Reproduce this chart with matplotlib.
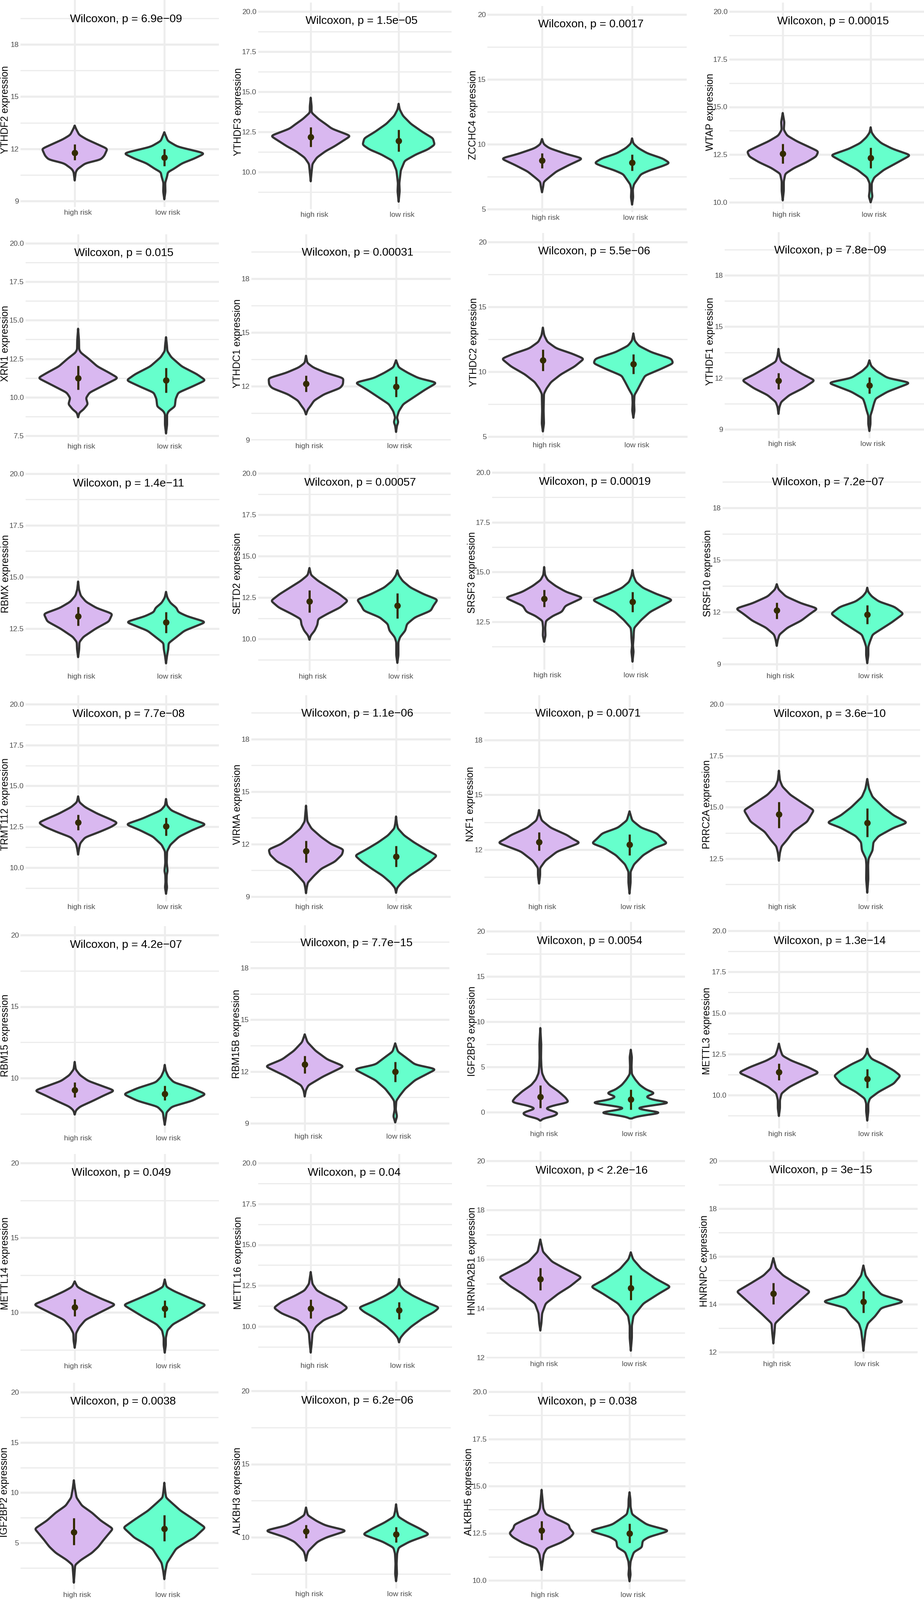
import numpy as np
import matplotlib
matplotlib.use("Agg")
import matplotlib.pyplot as plt
from matplotlib.transforms import ScaledTranslation

plt.rcParams['font.family'] = ['Liberation Sans', 'DejaVu Sans']

W, H = 2165, 3749
DPI = 100

GENES = ["YTHDF2", "YTHDF3", "ZCCHC4", "WTAP", "XRN1", "YTHDC1", "YTHDC2", "YTHDF1",
         "RBMX", "SETD2", "SRSF3", "SRSF10", "TRMT112", "VIRMA", "NXF1", "PRRC2A",
         "RBM15", "RBM15B", "IGF2BP3", "METTL3", "METTL14", "METTL16", "HNRNPA2B1", "HNRNPC",
         "IGF2BP2", "ALKBH3", "ALKBH5"]
PVALUES = ["p = 6.9e−09", "p = 1.5e−05", "p = 0.0017", "p = 0.00015", "p = 0.015", "p = 0.00031",
           "p = 5.5e−06", "p = 7.8e−09", "p = 1.4e−11", "p = 0.00057", "p = 0.00019", "p = 7.2e−07",
           "p = 7.7e−08", "p = 1.1e−06", "p = 0.0071", "p = 3.6e−10", "p = 4.2e−07", "p = 7.7e−15",
           "p = 0.0054", "p = 1.3e−14", "p = 0.049", "p = 0.04", "p < 2.2e−16", "p = 3e−15",
           "p = 0.0038", "p = 6.2e−06", "p = 0.038"]
GROUPS = ["high risk", "low risk"]

T369 = [9, 12, 15, 18]
T25 = [10, 12.5, 15, 17.5, 20]
T5 = [5, 10, 15, 20]
T10 = [10, 15, 20]
TICKS = [T369, T25, T5, T25,
         [7.5, 10, 12.5, 15, 17.5, 20], T369, T5, T369,
         [12.5, 15, 17.5, 20], T25, [12.5, 15, 17.5, 20], T369,
         T25, T369, [12, 15, 18], [12.5, 15, 17.5, 20],
         T10, T369, [0, 5, 10, 15, 20], T25,
         T10, T25, [12, 14, 16, 18, 20], [12, 14, 16, 18, 20],
         T5, T10, T25]

# group summary: centre point, lower and upper end of the bar
MEAN_HIGH = [11.78, 12.18, 8.75, 12.55, 11.25, 12.15, 10.9, 11.84, 13.1, 12.27, 13.65, 12.1, 12.78, 11.6,
             12.43, 14.65, 9.15, 12.4, 1.7, 11.4, 10.35, 11.1, 15.2, 14.45, 6.05, 10.4, 12.65]
LO_HIGH = [11.35, 11.57, 8.15, 12.03, 10.5, 11.7, 10.05, 11.35, 12.65, 11.6, 13.25, 11.6, 12.3, 10.95,
           11.95, 14.0, 8.65, 11.9, 0.45, 10.9, 9.75, 10.5, 14.75, 14.0, 4.8, 9.95, 12.15]
HI_HIGH = [12.25, 12.8, 9.3, 13.07, 12.05, 12.6, 11.7, 12.3, 13.55, 12.95, 14.1, 12.55, 13.25, 12.2,
           12.95, 15.25, 9.7, 12.9, 2.95, 11.92, 10.9, 11.65, 15.65, 14.9, 7.45, 10.85, 13.15]
MEAN_LOW = [11.5, 11.94, 8.6, 12.33, 11.1, 11.97, 10.6, 11.57, 12.8, 12.0, 13.5, 11.85, 12.52, 11.3,
            12.28, 14.25, 8.9, 12.0, 1.4, 11.0, 10.25, 11.0, 14.83, 14.1, 6.4, 10.2, 12.5]
LO_LOW = [11.0, 11.27, 7.95, 11.8, 10.3, 11.4, 9.85, 11.1, 12.3, 11.25, 13.0, 11.3, 11.95, 10.7,
          11.7, 13.55, 8.45, 11.4, 0.3, 10.45, 9.65, 10.45, 14.35, 13.65, 5.15, 9.65, 12.0]
HI_LOW = [12.0, 12.63, 9.2, 12.87, 11.9, 12.55, 11.35, 12.05, 13.3, 12.75, 14.0, 12.4, 13.05, 11.9,
          12.85, 14.95, 9.45, 12.55, 2.5, 11.58, 10.8, 11.5, 15.35, 14.55, 7.75, 10.7, 13.0]

# violin outlines: (expression, half width in group spacings)
YTHDF2_H = [(10.18, 0), (10.66, .012), (10.83, .03), (11.17, .12), (11.38, .29), (11.6, .33), (12, .365), (12.2, .28), (12.55, .13), (12.8, .05), (13.15, .015), (13.33, 0)]
YTHDF2_L = [(9.1, 0), (9.53, .012), (10.05, .01), (10.4, .03), (10.66, .04), (10.83, .1), (11.17, .2), (11.43, .33), (11.74, .455), (12.12, .15), (12.45, .04), (12.7, .02), (12.95, 0)]
YTHDF3_H = [(9.42, 0), (10, .01), (10.5, .02), (10.9, .07), (11.3, .17), (11.6, .27), (12.25, .455), (12.7, .24), (12.95, .18), (13.3, .09), (13.7, .01), (14.1, .01), (14.63, 0)]
YTHDF3_L = [(8.15, 0), (8.8, .012), (9.3, .008), (10.1, .025), (10.7, .07), (11.1, .2), (11.4, .33), (11.7, .41), (12.1, .39), (12.5, .27), (13, .14), (13.5, .05), (13.9, .012), (14.25, 0)]
ZCCHC4_H = [(6.3, 0), (6.7, .012), (7.1, .02), (7.4, .07), (7.9, .16), (8.4, .3), (8.9, .455), (9.25, .27), (9.7, .08), (10, .02), (10.4, 0)]
ZCCHC4_L = [(5.35, 0), (5.9, .012), (6.5, .008), (6.9, .02), (7.2, .05), (7.7, .1), (8, .2), (8.3, .33), (8.55, .42), (8.9, .34), (9.3, .17), (9.7, .07), (10.05, .015), (10.45, 0)]
WTAP_H = [(10.1, 0), (10.6, .012), (11.1, .012), (11.5, .03), (11.8, .13), (12.1, .27), (12.4, .38), (12.67, .405), (12.9, .3), (13.2, .16), (13.5, .05), (13.8, .012), (14.2, .018), (14.68, 0)]
WTAP_L = [(10, 0), (10.3, .02), (10.6, .012), (11, .012), (11.3, .04), (11.7, .15), (12, .27), (12.47, .455), (12.8, .25), (13.1, .12), (13.4, .05), (13.65, .012), (13.93, 0)]
XRN1_H = [(8.7, 0), (9, .015), (9.2, .06), (9.55, .11), (9.95, .09), (10.3, .13), (10.8, .3), (11.25, .455), (11.6, .35), (12, .22), (12.5, .12), (12.9, .03), (13.1, .012), (13.7, .01), (14.45, 0)]
XRN1_L = [(7.65, 0), (8.2, .012), (8.9, .012), (9.1, .03), (9.4, .1), (9.9, .11), (10.3, .14), (10.7, .3), (11.1, .45), (11.5, .35), (12, .18), (12.6, .06), (13, .015), (13.4, .01), (13.9, 0)]
YTHDC1_H = [(10.43, 0), (10.7, .02), (10.9, .05), (11.2, .09), (11.55, .2), (11.9, .38), (12.1, .41), (12.45, .415), (12.75, .22), (13.05, .08), (13.3, .015), (13.7, 0)]
YTHDC1_L = [(9.45, 0), (9.8, .01), (10, .025), (10.25, .01), (10.6, .03), (11, .08), (11.4, .2), (11.8, .32), (12.2, .455), (12.45, .25), (12.75, .13), (13.05, .03), (13.45, 0)]
YTHDC2_H = [(5.4, 0), (6, .012), (7, .008), (8.3, .012), (8.7, .04), (9.2, .09), (9.8, .2), (10.4, .35), (11, .455), (11.4, .32), (11.8, .15), (12.3, .05), (12.8, .015), (13.4, 0)]
YTHDC2_L = [(6.45, 0), (7, .012), (7.6, .008), (8.2, .012), (8.6, .045), (9.2, .09), (9.7, .13), (10.2, .3), (10.65, .44), (11, .42), (11.5, .2), (12, .06), (12.4, .015), (12.95, 0)]
YTHDF1_H = [(9.9, 0), (10.3, .01), (10.6, .03), (11, .12), (11.4, .27), (11.86, .4), (12.2, .27), (12.6, .14), (12.95, .03), (13.3, .01), (13.7, 0)]
YTHDF1_L = [(8.9, 0), (9.3, .012), (9.8, .012), (10.1, .03), (10.5, .05), (10.8, .07), (11.2, .2), (11.72, .455), (12, .2), (12.4, .08), (12.7, .02), (13.03, 0)]
RBMX_H = [(11.12, 0), (11.5, .012), (11.85, .015), (12.1, .06), (12.5, .2), (12.85, .35), (13.22, .39), (13.5, .21), (13.8, .09), (14.1, .03), (14.4, .01), (14.78, 0)]
RBMX_L = [(10.82, 0), (11.2, .012), (11.5, .025), (11.8, .03), (12, .09), (12.4, .21), (12.82, .455), (13.1, .24), (13.3, .14), (13.5, .12), (13.75, .05), (14, .015), (14.28, 0)]
SETD2_H = [(9.95, 0), (10.2, .015), (10.5, .06), (10.85, .09), (11.2, .1), (11.5, .2), (11.9, .35), (12.3, .437), (12.7, .34), (13.1, .22), (13.5, .1), (13.85, .02), (14.28, 0)]
SETD2_L = [(8.55, 0), (9, .012), (9.8, .012), (10.1, .03), (10.5, .09), (10.9, .11), (11.3, .2), (11.7, .38), (12, .41), (12.37, .458), (12.7, .3), (13.1, .15), (13.5, .06), (13.85, .015), (14.14, 0)]
SRSF3_H = [(11.5, 0), (11.8, .015), (12.2, .012), (12.55, .02), (12.8, .1), (13, .2), (13.3, .24), (13.71, .44), (14, .25), (14.3, .13), (14.6, .04), (14.85, .01), (15.25, 0)]
SRSF3_L = [(10.5, 0), (11, .012), (11.3, .005), (11.7, .012), (12, .015), (12.2, .02), (12.6, .1), (13, .2), (13.6, .455), (13.9, .27), (14.2, .12), (14.5, .04), (14.8, .012), (15.1, 0)]
SRSF10_H = [(10.05, 0), (10.4, .012), (10.7, .03), (11.1, .12), (11.5, .27), (11.9, .37), (12.2, .453), (12.5, .27), (12.9, .1), (13.3, .02), (13.6, 0)]
SRSF10_L = [(9.05, 0), (9.5, .012), (10, .012), (10.3, .03), (10.7, .06), (11, .15), (11.4, .27), (11.9, .4), (12.3, .3), (12.6, .13), (12.9, .05), (13.15, .012), (13.4, 0)]
TRMT112_H = [(10.8, 0), (11.2, .012), (11.5, .025), (11.85, .08), (12.2, .25), (12.5, .38), (12.75, .45), (13, .35), (13.3, .22), (13.7, .08), (14, .015), (14.36, 0)]
TRMT112_L = [(8.4, 0), (8.8, .012), (9.1, .006), (9.55, .008), (9.8, .018), (10.3, .008), (11, .012), (11.4, .05), (11.9, .15), (12.3, .3), (12.65, .458), (13, .27), (13.5, .06), (13.8, .012), (14.2, 0)]
VIRMA_H = [(9.2, 0), (9.5, .008), (9.8, .02), (10.2, .09), (10.6, .17), (11, .32), (11.4, .4), (11.7, .415), (12, .28), (12.4, .17), (12.9, .06), (13.3, .015), (13.6, .01), (14.2, 0)]
VIRMA_L = [(9.22, 0), (9.5, .012), (9.8, .06), (10.2, .15), (10.6, .27), (11, .38), (11.35, .455), (11.7, .33), (12.1, .2), (12.5, .09), (12.9, .02), (13.2, .008), (13.58, 0)]
NXF1_H = [(10.15, 0), (10.6, .012), (11, .012), (11.4, .07), (11.9, .2), (12.38, .455), (12.6, .37), (12.8, .31), (13.2, .13), (13.6, .03), (13.9, .01), (14.17, 0)]
NXF1_L = [(9.6, 0), (10.2, .012), (10.8, .012), (11.2, .05), (11.7, .15), (12.1, .28), (12.35, .417), (12.6, .36), (12.9, .3), (13.2, .13), (13.6, .03), (14.1, 0)]
PRRC2A_H = [(12.4, 0), (12.8, .012), (13.1, .03), (13.4, .09), (13.8, .16), (14.3, .32), (14.85, .395), (15.2, .27), (15.6, .13), (16, .04), (16.3, .012), (16.77, 0)]
PRRC2A_L = [(10.85, 0), (11.5, .012), (12.2, .01), (12.5, .015), (12.9, .06), (13.3, .07), (13.6, .13), (14, .3), (14.25, .455), (14.6, .3), (15, .18), (15.5, .06), (15.9, .02), (16.37, 0)]
RBM15_H = [(7.45, 0), (7.75, .015), (8, .06), (8.4, .2), (8.8, .33), (9.12, .445), (9.5, .28), (9.8, .15), (10.2, .06), (10.6, .012), (11.13, 0)]
RBM15_L = [(6.73, 0), (7.2, .012), (7.6, .02), (8, .08), (8.4, .3), (8.87, .458), (9.3, .3), (9.7, .1), (10.1, .04), (10.5, .012), (10.92, 0)]
RBM15B_H = [(10.55, 0), (10.9, .012), (11.2, .04), (11.7, .2), (12.3, .435), (12.7, .25), (13.2, .12), (13.7, .03), (14.15, 0)]
RBM15B_L = [(9.05, 0), (9.4, .02), (9.8, .006), (10.3, .012), (10.6, .05), (11, .11), (11.5, .22), (12.14, .455), (12.4, .22), (12.8, .12), (13.15, .03), (13.63, 0)]
IGF2BP3_H = [(-.93, 0), (-.7, .03), (-.4, .16), (-.1, .2), (.15, .13), (.4, .05), (.7, .13), (1.1, .315), (1.6, .28), (2.3, .2), (3, .1), (3.6, .05), (4.3, .02), (5, .012), (6, .008), (7.5, .01), (9.3, 0)]
IGF2BP3_L = [(-.7, 0), (-.45, .08), (-.2, .25), (-.05, .37), (.15, .2), (.45, .05), (.7, .2), (1.05, .457), (1.35, .25), (1.7, .16), (2.1, .27), (2.5, .17), (3, .1), (3.6, .05), (4.2, .012), (5, .008), (6.1, .012), (6.9, 0)]
METTL3_H = [(8.73, 0), (9.2, .012), (9.7, .012), (10.1, .03), (10.5, .12), (11, .3), (11.37, .455), (11.7, .33), (12.1, .14), (12.4, .04), (12.8, .015), (13.13, 0)]
METTL3_L = [(8.45, 0), (9, .012), (9.5, .012), (9.8, .03), (10.2, .13), (10.7, .3), (11.18, .375), (11.5, .3), (11.9, .17), (12.2, .05), (12.5, .012), (12.82, 0)]
METTL14_H = [(7.63, 0), (8.1, .012), (8.6, .015), (9, .05), (9.5, .12), (9.9, .25), (10.52, .455), (10.9, .3), (11.4, .12), (11.7, .03), (12.07, 0)]
METTL14_L = [(7.3, 0), (7.8, .012), (8.3, .012), (8.8, .03), (9.2, .09), (9.7, .24), (10.5, .458), (10.9, .3), (11.4, .11), (11.7, .02), (12.2, 0)]
METTL16_H = [(8.4, 0), (9, .012), (9.6, .02), (10, .06), (10.4, .15), (10.8, .33), (11.14, .418), (11.5, .33), (11.9, .17), (12.2, .07), (12.6, .02), (13.33, 0)]
METTL16_L = [(9.03, 0), (9.3, .015), (9.6, .06), (10, .14), (10.5, .27), (10.9, .4), (11.16, .455), (11.5, .3), (11.9, .15), (12.2, .06), (12.5, .012), (12.9, 0)]
HNRNPA2B1_H = [(13.1, 0), (13.4, .012), (13.8, .02), (14.2, .06), (14.6, .2), (14.9, .33), (15.27, .456), (15.6, .28), (15.9, .13), (16.3, .03), (16.8, 0)]
HNRNPA2B1_L = [(12.28, 0), (12.8, .012), (13.3, .012), (13.7, .03), (14.2, .14), (14.6, .31), (14.88, .44), (15.2, .28), (15.6, .12), (16, .025), (16.28, 0)]
HNRNPC_H = [(12.36, 0), (12.8, .012), (13.2, .02), (13.6, .13), (14, .25), (14.53, .407), (14.9, .24), (15.2, .11), (15.5, .03), (15.93, 0)]
HNRNPC_L = [(12.05, 0), (12.5, .012), (12.9, .025), (13.2, .05), (13.5, .13), (13.85, .2), (14.11, .456), (14.4, .2), (14.8, .1), (15.2, .025), (15.62, 0)]
IGF2BP2_H = [(1.03, 0), (2, .008), (2.8, .015), (3.3, .08), (4, .2), (4.6, .27), (5.3, .33), (6.4, .432), (7.2, .3), (8, .2), (8.7, .09), (9.5, .03), (10.4, .012), (11.23, 0)]
IGF2BP2_L = [(1.38, 0), (2.2, .012), (3, .03), (3.7, .08), (4.4, .13), (5, .23), (5.5, .33), (6.52, .452), (7.3, .33), (8.2, .18), (9, .08), (9.5, .02), (10.1, .01), (10.98, 0)]
ALKBH3_H = [(8.4, 0), (8.8, .012), (9.05, .025), (9.4, .08), (9.7, .13), (10, .23), (10.45, .457), (10.8, .22), (11.1, .12), (11.5, .02), (12.03, 0)]
ALKBH3_L = [(7, 0), (7.5, .01), (8.2, .006), (8.9, .012), (9.3, .03), (9.7, .15), (10.2, .37), (10.6, .26), (11, .13), (11.4, .025), (11.8, .01), (12.25, 0)]
ALKBH5_H = [(10.55, 0), (11, .012), (11.4, .025), (11.7, .06), (12, .22), (12.3, .33), (12.5, .367), (12.75, .32), (12.95, .31), (13.2, .2), (13.5, .05), (13.8, .02), (14.2, .012), (14.8, 0)]
ALKBH5_L = [(9.95, 0), (10.3, .012), (10.65, .006), (11, .012), (11.25, .03), (11.5, .05), (11.75, .14), (12.1, .15), (12.3, .22), (12.63, .457), (12.95, .2), (13.2, .12), (13.5, .03), (13.9, .012), (14.3, .01), (14.67, 0)]

OUTLINES_HIGH = [YTHDF2_H, YTHDF3_H, ZCCHC4_H, WTAP_H, XRN1_H, YTHDC1_H, YTHDC2_H, YTHDF1_H, RBMX_H, SETD2_H,
                 SRSF3_H, SRSF10_H, TRMT112_H, VIRMA_H, NXF1_H, PRRC2A_H, RBM15_H, RBM15B_H, IGF2BP3_H, METTL3_H,
                 METTL14_H, METTL16_H, HNRNPA2B1_H, HNRNPC_H, IGF2BP2_H, ALKBH3_H, ALKBH5_H]
OUTLINES_LOW = [YTHDF2_L, YTHDF3_L, ZCCHC4_L, WTAP_L, XRN1_L, YTHDC1_L, YTHDC2_L, YTHDF1_L, RBMX_L, SETD2_L,
                SRSF3_L, SRSF10_L, TRMT112_L, VIRMA_L, NXF1_L, PRRC2A_L, RBM15_L, RBM15B_L, IGF2BP3_L, METTL3_L,
                METTL14_L, METTL16_L, HNRNPA2B1_L, HNRNPC_L, IGF2BP2_L, ALKBH3_L, ALKBH5_L]

# ---- layout, in image pixels ----
# left, right, group-1 x, group-2 x, top, tick-label centre y
FRAME = [(48, 513, 175, 385, 0, 499), (605, 1058, 728, 934, 6, 504), (1142, 1609, 1270, 1481, 14, 511), (1709, 2165, 1834, 2040, 6, 504),
         (60, 513, 183, 389, 549, 1047), (589, 1056, 717, 928, 549, 1046), (1144, 1611, 1272, 1484, 546, 1044), (1698, 2165, 1824, 2037, 544, 1041),
         (60, 514, 183, 389, 1088, 1586), (605, 1056, 725, 931, 1088, 1586), (1153, 1606, 1275, 1482, 1086, 1583), (1693, 2158, 1820, 2032, 1087, 1585),
         (60, 513, 183, 389, 1629, 2126), (589, 1056, 717, 928, 1629, 2126), (1135, 1602, 1263, 1475, 1629, 2126), (1700, 2156, 1825, 2032, 1629, 2126),
         (48, 513, 175, 386, 2170, 2668), (587, 1053, 714, 926, 2168, 2664), (1140, 1605, 1266, 1478, 2160, 2658), (1706, 2156, 1825, 2032, 2160, 2658),
         (48, 513, 175, 386, 2704, 3202), (605, 1059, 728, 935, 2704, 3201), (1140, 1605, 1266, 1478, 2698, 3197), (1684, 2150, 1812, 2023, 2698, 3197),
         (48, 512, 173, 385, 3240, 3738), (589, 1056, 717, 928, 3237, 3736), (1145, 1606, 1269, 1475, 3239, 3738)]
# two reference ticks: (value, y pixel), (value, y pixel)
YREF = [(18, 104, 9, 471), (20, 27, 10, 403), (20, 34, 5, 490), (20, 27, 10, 474),
        (20, 570, 7.5, 1021), (18, 653, 9, 1031), (20, 567, 5, 1023), (18, 645, 9, 1006),
        (20, 1110, 12.5, 1473), (20, 1109, 10, 1497), (20, 1107, 12.5, 1457), (18, 1190, 9, 1556),
        (20, 1650, 10, 2033), (18, 1732, 9, 2101), (18, 1734, 12, 1991), (20, 1650, 12.5, 2012),
        (20, 2191, 10, 2526), (18, 2268, 9, 2632), (20, 2182, 0, 2606), (20, 2181, 10, 2566),
        (20, 2725, 10, 3075), (20, 2725, 10, 3108), (20, 2720, 12, 3181), (20, 2720, 12, 3168),
        (20, 3262, 5, 3615), (20, 3259, 10, 3602), (20, 3261, 10, 3703)]
# annotation: left x, centre y
NOTE = [(164, 45), (716, 49), (1261, 57), (1821, 50), (174, 593), (707, 592), (1261, 589), (1814, 587),
        (171, 1133), (713, 1131), (1263, 1129), (1809, 1130), (170, 1673), (706, 1672), (1254, 1672), (1813, 1673),
        (164, 2214), (704, 2210), (1258, 2205), (1813, 2205), (168, 2748), (721, 2748), (1255, 2743), (1803, 2742),
        (165, 3284), (706, 3282), (1260, 3284)]
YLABEL_X = [13, 559, 1109, 1664, 13, 556, 1111, 1664, 14, 556, 1106, 1659, 13, 556, 1102, 1656,
            13, 554, 1106, 1657, 13, 559, 1106, 1651, 11, 556, 1099]

PURPLE = "#D9B8F0"
TEAL = "#66FFCC"
OUTLINE = "#333333"
DOT = "#332B00"
GRID = "#EDEDED"
PX = 72 / DPI


def violin(ax, x, outline, fill, px_per_unit):
    vals = np.array([p[0] for p in outline], float)
    half = np.array([p[1] for p in outline], float)
    ys = np.linspace(vals[0], vals[-1], 500)
    w = np.interp(ys, vals, half)
    step_px = (vals[-1] - vals[0]) / 499 * px_per_unit
    sigma = 2.2 / step_px
    r = int(np.ceil(3 * sigma))
    k = np.exp(-0.5 * (np.arange(-r, r + 1) / sigma) ** 2)
    k /= k.sum()
    w = np.convolve(np.pad(w, r, mode='edge'), k, mode='valid')
    w[0] = w[-1] = 0
    ax.fill(np.r_[x - w, (x + w)[::-1]], np.r_[ys, ys[::-1]], facecolor=fill, edgecolor=OUTLINE,
            linewidth=5 * PX, joinstyle='round', zorder=3)


fig = plt.figure(figsize=(W / DPI, H / DPI), dpi=DPI, facecolor='white')

for i, gene in enumerate(GENES):
    left, right, x1, x2, top, lab_y = FRAME[i]
    bottom = lab_y - 14
    ax = fig.add_axes([left / W, 1 - bottom / H, (right - left) / W, (bottom - top) / H])
    v1, p1, v2, p2 = YREF[i]
    ppu = (p2 - p1) / (v1 - v2)
    ax.set_ylim(v2 - (bottom - p2) / ppu, v1 + (p1 - top) / ppu)
    ax.set_xlim(1 + (left - x1) / (x2 - x1), 1 + (right - x1) / (x2 - x1))
    for s in ax.spines.values():
        s.set_visible(False)

    ticks = TICKS[i]
    step = ticks[1] - ticks[0]
    ax.set_yticks(ticks)
    ax.set_yticklabels([f"{t:.1f}" if step == 2.5 else f"{t:g}" for t in ticks])
    low_y, high_y = ax.get_ylim()
    minors = [t + step / 2 for t in [ticks[0] - step] + list(ticks)]
    ax.set_yticks([m for m in minors if low_y < m < high_y], minor=True)
    ax.set_xticks([1, 2])
    ax.set_xticklabels(GROUPS)
    ax.set_axisbelow(True)
    ax.grid(True, axis='y', which='major', color=GRID, linewidth=5 * PX)
    ax.grid(True, axis='y', which='minor', color=GRID, linewidth=3 * PX)
    ax.grid(True, axis='x', which='major', color=GRID, linewidth=4.5 * PX)
    ax.tick_params(which='both', length=0)
    ax.tick_params(axis='y', pad=4 * PX, labelsize=12.6, labelcolor="#4D4D4D")
    ax.tick_params(axis='x', pad=6 * PX, labelsize=12.6, labelcolor="#4D4D4D")
    offset = ScaledTranslation(8 / DPI, 0, fig.dpi_scale_trans)
    for lab in ax.get_xticklabels():
        lab.set_transform(lab.get_transform() + offset)

    violin(ax, 1, OUTLINES_HIGH[i], PURPLE, ppu)
    violin(ax, 2, OUTLINES_LOW[i], TEAL, ppu)
    for x, m, lo, hi in ((1, MEAN_HIGH[i], LO_HIGH[i], HI_HIGH[i]), (2, MEAN_LOW[i], LO_LOW[i], HI_LOW[i])):
        ax.plot([x, x], [lo, hi], color=DOT, linewidth=5 * PX, solid_capstyle='butt', zorder=4)
        ax.plot([x], [m], 'o', color=DOT, markersize=15 * PX, markeredgewidth=0, zorder=5)

    nx, ny = NOTE[i]
    fig.text(nx / W, 1 - ny / H, f"Wilcoxon, {PVALUES[i]}", fontsize=19, color='black', ha='left', va='center')
    fig.text(YLABEL_X[i] / W, 1 - ((top + bottom) / 2 + 14) / H, f"{gene} expression", fontsize=16.5, color='black',
             rotation=90, ha='center', va='center')

fig.savefig("out.png", dpi=DPI, facecolor='white')
